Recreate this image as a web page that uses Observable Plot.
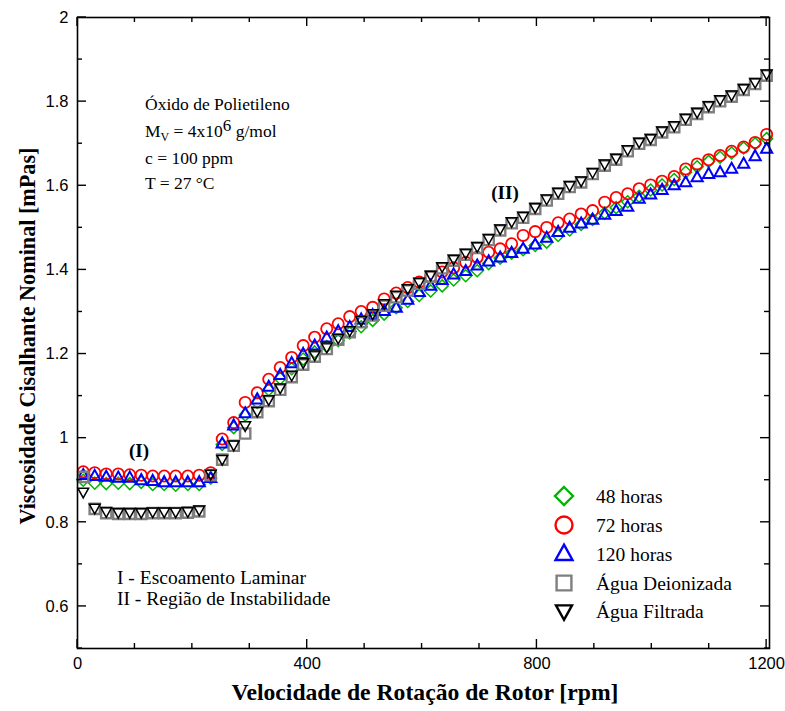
<!DOCTYPE html>
<html><head><meta charset="utf-8">
<script src="https://cdn.jsdelivr.net/npm/d3@7"></script>
<script src="https://cdn.jsdelivr.net/npm/@observablehq/plot@0.6"></script>
<style>body{margin:0;background:#fff}</style>
</head><body><div id="chart"></div>
<script>
// ---- data ----
const rpm = [10,30,50,71,91,111,131,151,171,192,212,232,252,272,292,313,333,353,373,393,413,434,454,474,494,514,534,555,575,595,615,635,655,676,696,716,736,756,776,797,817,837,857,877,897,918,938,958,978,998,1018,1039,1059,1079,1099,1119,1139,1160,1180,1200];
const h48 = [0.900,0.893,0.892,0.893,0.892,0.895,0.890,0.890,0.888,0.890,
  0.890,0.905,0.985,1.025,1.055,1.085,1.115,1.142,1.165,1.188,
  1.205,1.218,1.232,1.250,1.265,1.280,1.295,1.310,1.325,1.339,
  1.350,1.362,1.376,1.386,1.398,1.415,1.428,1.440,1.448,1.458,
  1.466,1.482,1.495,1.508,1.520,1.535,1.548,1.562,1.575,1.590,
  1.602,1.615,1.632,1.645,1.658,1.668,1.678,1.690,1.700,1.712];
const h72 = [0.920,0.918,0.915,0.915,0.913,0.912,0.910,0.910,0.910,0.910,
  0.912,0.918,0.998,1.037,1.085,1.108,1.140,1.168,1.192,1.220,
  1.240,1.260,1.272,1.289,1.301,1.311,1.331,1.345,1.358,1.371,
  1.383,1.395,1.405,1.418,1.430,1.442,1.450,1.462,1.482,1.491,
  1.501,1.512,1.521,1.533,1.541,1.561,1.572,1.581,1.593,1.602,
  1.611,1.622,1.640,1.652,1.662,1.672,1.682,1.692,1.703,1.722];
const h120 = [0.912,0.910,0.908,0.906,0.906,0.900,0.898,0.895,0.895,0.895,
  0.895,0.905,0.987,1.030,1.059,1.092,1.122,1.150,1.178,1.200,
  1.220,1.239,1.254,1.264,1.282,1.292,1.302,1.310,1.329,1.347,
  1.362,1.376,1.389,1.397,1.410,1.420,1.429,1.440,1.450,1.460,
  1.476,1.490,1.500,1.510,1.519,1.531,1.540,1.550,1.569,1.579,
  1.590,1.601,1.608,1.620,1.628,1.632,1.640,1.652,1.670,1.688];
const deion = [0.908,0.832,0.822,0.820,0.820,0.820,0.822,0.822,0.822,0.823,
  0.826,0.912,0.949,0.982,1.011,1.062,1.088,1.115,1.145,1.175,
  1.194,1.212,1.234,1.252,1.276,1.292,1.315,1.335,1.351,1.367,
  1.384,1.404,1.422,1.436,1.452,1.471,1.494,1.511,1.524,1.545,
  1.565,1.581,1.597,1.608,1.628,1.648,1.662,1.682,1.700,1.709,
  1.727,1.739,1.757,1.771,1.787,1.801,1.812,1.828,1.842,1.862];
const filt = [0.872,0.834,0.826,0.824,0.824,0.824,0.825,0.825,0.825,0.826,
  0.830,0.915,0.950,0.984,1.030,1.064,1.092,1.120,1.150,1.180,
  1.198,1.217,1.238,1.256,1.280,1.296,1.320,1.340,1.356,1.371,
  1.388,1.408,1.426,1.440,1.456,1.475,1.498,1.515,1.528,1.549,
  1.569,1.585,1.601,1.612,1.632,1.652,1.666,1.686,1.704,1.713,
  1.731,1.743,1.761,1.775,1.791,1.805,1.816,1.832,1.846,1.866];
const seriesNames = ["48 horas","72 horas","120 horas","Água Deionizada","Água Filtrada"];
const xTicksMajor = [0,400,800,1200];
const xTicksMinor = [100,200,300,500,600,700,900,1000,1100];
const yTicksMajor = [0.6,0.8,1,1.2,1.4,1.6,1.8,2];
const yTicksMinor = [0.5,0.7,0.9,1.1,1.3,1.5,1.7,1.9];
const xTitle = "Velocidade de Rotação de Rotor [rpm]";
const yTitle = "Viscosidade Cisalhante Nominal [mPas]";

// ---- symbols ----
const poly = pts => ({draw(ctx, size){ const k = Math.sqrt(size/Math.PI);
  ctx.moveTo(pts[0][0]*k, pts[0][1]*k);
  for (let i=1;i<pts.length;i++) ctx.lineTo(pts[i][0]*k, pts[i][1]*k);
  ctx.closePath(); }});
const symDiamond = poly([[0,-1],[1,0],[0,1],[-1,0]]);
const symSquare = poly([[-0.95,-0.95],[0.95,-0.95],[0.95,0.95],[-0.95,0.95]]);
const symTri = poly([[0,-1.1],[1,0.7],[-1,0.7]]);
const symTriDown = poly([[0,1.1],[1,-0.7],[-1,-0.7]]);
const symCircle = d3.symbolCircle;

const series = [
  {name: seriesNames[0], values: h48, color: "#00b400", sym: symDiamond, r: 6, sw: 1.5, lr: 9},
  {name: seriesNames[1], values: h72, color: "#ff0000", sym: symCircle, r: 5.6, sw: 1.8, lr: 8.5},
  {name: seriesNames[2], values: h120, color: "#0000ff", sym: symTri, r: 5.6, sw: 2, lr: 8.5},
  {name: seriesNames[3], values: deion, color: "#7f7f7f", sym: symSquare, r: 5.4, sw: 2.4, lr: 7.8},
  {name: seriesNames[4], values: filt, color: "#000000", sym: symTriDown, r: 5.4, sw: 1.5, lr: 8}
];

const W = 785, H = 711;
const sans = "Liberation Sans, Arial, sans-serif";
const marks = [
  Plot.axisX({ticks: xTicksMajor, tickSize: 0, tickPadding: 9, label: null, fontSize: 17, fontFamily: sans, tickFormat: d => String(d)}),
  Plot.axisY({ticks: yTicksMajor, tickSize: 0, tickPadding: 9, label: null, fontSize: 17, fontFamily: sans, tickFormat: d => String(d)})
];
for (const s of series) {
  marks.push(Plot.dot(rpm.map((x, i) => ({x, y: s.values[i]})), {
    x: "x", y: "y", symbol: s.sym, r: s.r, stroke: s.color, strokeWidth: s.sw, fill: "none"
  }));
}
marks.push(Plot.frame({stroke: "black", strokeWidth: 1.6}));

const plot = Plot.plot({
  width: W, height: H,
  marginLeft: 77, marginRight: 16, marginTop: 17, marginBottom: 63,
  x: {domain: [0, 1205]},
  y: {domain: [0.5, 2.0]},
  style: {background: "#fff", color: "black", overflow: "visible"},
  marks
});
document.getElementById("chart").appendChild(plot);

const svg = d3.select(plot);
svg.selectAll('g[aria-label$="tick label"]').style("font-size", "16.5px").style("font-family", sans);
svg.selectAll('g[aria-label$="tick label"] text').style("font-size", "16.5px");

const sx = plot.scale("x"), sy = plot.scale("y");
const x0 = sx.apply(0), x1 = sx.apply(1205), y0 = sy.apply(0.5), y1 = sy.apply(2.0);
const g = svg.append("g").attr("stroke", "black").attr("stroke-width", 1.4);
function xt(v, len){ const px = sx.apply(v);
  g.append("line").attr("x1", px).attr("x2", px).attr("y1", y0).attr("y2", y0 - len);
  g.append("line").attr("x1", px).attr("x2", px).attr("y1", y1).attr("y2", y1 + len); }
function yt(v, len){ const py = sy.apply(v);
  g.append("line").attr("y1", py).attr("y2", py).attr("x1", x0).attr("x2", x0 + len);
  g.append("line").attr("y1", py).attr("y2", py).attr("x1", x1).attr("x2", x1 - len); }
xTicksMajor.forEach(v => xt(v, 9)); xTicksMinor.forEach(v => xt(v, 5));
yTicksMajor.forEach(v => yt(v, 9)); yTicksMinor.forEach(v => yt(v, 5));

const serif = "Liberation Serif, Times New Roman, serif";
// axis titles
svg.append("text").attr("x", (x0 + x1) / 2 + 2).attr("y", 700).attr("text-anchor", "middle")
  .attr("font-family", serif).attr("font-weight", "bold").attr("font-size", 23)
  .attr("textLength", 387).attr("lengthAdjust", "spacingAndGlyphs").text(xTitle);
svg.append("text").attr("transform", `translate(35,${336}) rotate(-90)`).attr("text-anchor", "middle")
  .attr("font-family", serif).attr("font-weight", "bold").attr("font-size", 23)
  .attr("textLength", 377).attr("lengthAdjust", "spacingAndGlyphs").text(yTitle);

// annotations
const ann = svg.append("g").attr("font-family", serif).attr("font-size", 17.5).attr("fill", "black").attr("text-anchor", "start");
ann.append("text").attr("x", 145).attr("y", 110).text("Óxido de Polietileno");
const mv = ann.append("text").attr("x", 145).attr("y", 137);
mv.append("tspan").text("M");
mv.append("tspan").attr("font-size", 12).attr("dy", 4).text("V");
mv.append("tspan").attr("dy", -4).text(" = 4x10");
mv.append("tspan").attr("dy", -6).attr("font-size", 17).text("6");
mv.append("tspan").attr("dy", 6).text(" g/mol");
ann.append("text").attr("x", 145).attr("y", 164).text("c = 100 ppm");
ann.append("text").attr("x", 145).attr("y", 189).text("T = 27 °C");
ann.append("text").attr("x", 117).attr("y", 584).attr("font-size", 19.5).text("I - Escoamento Laminar");
ann.append("text").attr("x", 117).attr("y", 605).attr("font-size", 19.5).text("II - Região de Instabilidade");
ann.append("text").attr("x", 139).attr("y", 457).attr("text-anchor", "middle").attr("font-weight", "bold").attr("font-size", 19).text("(I)");
ann.append("text").attr("x", 505).attr("y", 199).attr("text-anchor", "middle").attr("font-weight", "bold").attr("font-size", 19).text("(II)");

// legend
const legY = [496, 525, 554, 583, 611];
const leg = svg.append("g").attr("text-anchor", "start");
series.forEach((s, i) => {
  leg.append("path").attr("transform", `translate(564,${legY[i]})`)
    .attr("d", d3.symbol(s.sym, s.lr * s.lr * Math.PI)())
    .attr("fill", "none").attr("stroke", s.color).attr("stroke-width", 2.4);
  leg.append("text").attr("x", 596).attr("y", legY[i] + 6.5).attr("font-family", serif)
    .attr("font-size", 19.5).text(s.name);
});
</script>
</body></html>
